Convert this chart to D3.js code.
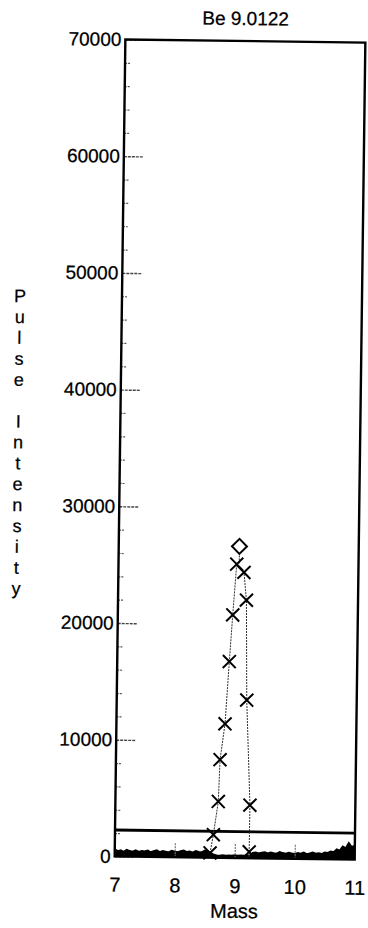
<!DOCTYPE html>
<html>
<head>
<meta charset="utf-8">
<script src="https://cdn.jsdelivr.net/npm/d3@7"></script>
<style>
  html, body { margin: 0; padding: 0; background: #fff; }
  svg { display: block; }
  text { font-family: "Liberation Sans", Arial, sans-serif; fill: #000; stroke: #000; stroke-width: 0.25px; }
</style>
</head>
<body>
<svg id="chart" width="368" height="928"></svg>
<script>
// ---------- data ----------
const title = "Be 9.0122";
const xLabel = "Mass";
const yLabel = "Pulse Intensity";
const xTicks = [7, 8, 9, 10, 11];
const yTicks = [0, 10000, 20000, 30000, 40000, 50000, 60000, 70000];
const yMinorTicks = [2000, 4000, 6000, 8000, 12000, 14000, 16000, 18000, 22000, 24000, 26000, 28000,
  32000, 34000, 36000, 38000, 42000, 44000, 46000, 48000, 52000, 54000, 56000, 58000,
  62000, 64000, 66000, 68000];

// scan points (crosses), in drawing order
const crossMass = [8.588, 8.64, 8.715, 8.735, 8.81, 8.868, 8.915, 8.97, 9.093, 9.14, 9.167, 9.243, 9.24];
const crossIntensity = [400, 1970, 4820, 8400, 11480, 16820, 20820, 25170, 24480, 22100, 13540, 4540, 540];

// peak marker (diamond)
const peakMass = [9.0122];
const peakIntensity = [26700];

// horizontal threshold line
const thresholdIntensity = [2260];

// background noise trace
const noiseMass = [7.00, 7.05, 7.10, 7.15, 7.20, 7.25, 7.30, 7.35, 7.40, 7.45, 7.50,
  7.55, 7.60, 7.65, 7.70, 7.75, 7.80, 7.85, 7.90, 7.95, 8.00,
  8.05, 8.10, 8.15, 8.20, 8.25, 8.30, 8.35, 8.40, 8.45, 8.50,
  8.55, 8.60, 8.65, 8.70, 8.75, 8.80, 8.85, 8.90, 8.95, 9.00,
  9.05, 9.10, 9.15, 9.20, 9.25, 9.30, 9.35, 9.40, 9.45, 9.50,
  9.55, 9.60, 9.65, 9.70, 9.75, 9.80, 9.85, 9.90, 9.95, 10.00,
  10.05, 10.10, 10.15, 10.20, 10.25, 10.30, 10.35, 10.40, 10.45, 10.50,
  10.55, 10.60, 10.65, 10.70, 10.75, 10.80, 10.85, 10.90, 10.95, 11.00];
const noiseIntensity = [600, 450, 530, 400, 570, 470, 430, 550, 410, 500, 450,
  530, 390, 480, 560, 420, 510, 450, 400, 540, 460,
  430, 510, 570, 450, 500, 410, 550, 480, 440, 600,
  530, 400, 250, 200, 180, 220, 190, 210, 180, 230,
  200, 220, 190, 240, 210, 450, 500, 420, 480, 530,
  430, 500, 450, 410, 550, 470, 430, 510, 450, 400,
  490, 440, 530, 410, 470, 550, 450, 500, 430, 570,
  530, 650, 600, 850, 750, 1100, 950, 1400, 1050, 1200];

// ---------- layout ----------
const svg = d3.select("#chart");
const mLeft = 120, mRight = 360, mTop = 41, mBottom = 858;
const x = d3.scaleLinear().domain([7, 11]).range([mLeft, mRight]);
const y = d3.scaleLinear().domain([0, 70000]).range([mBottom, mTop]);

// the scanned page is slightly rotated
const g = svg.append("g").attr("transform", "rotate(0.75,240,450)");

// noise band
const noise = noiseMass.map((m, i) => ({ m, v: noiseIntensity[i] }));
g.append("path")
  .datum(noise)
  .attr("d", d3.area().x(d => x(d.m)).y0(y(0)).y1(d => y(d.v)))
  .attr("fill", "#000");
g.append("path")
  .datum(noise)
  .attr("d", d3.line().x(d => x(d.m)).y(d => y(d.v)))
  .attr("fill", "none").attr("stroke", "#000").attr("stroke-width", 2)
  .attr("stroke-linejoin", "miter");

// minor y ticks
g.append("g")
  .attr("transform", `translate(${mLeft},0)`)
  .call(d3.axisLeft(y).tickValues(yMinorTicks).tickSize(-6).tickFormat(""))
  .call(s => s.select(".domain").remove())
  .call(s => s.selectAll("line").attr("stroke", "#555").attr("stroke-width", 1.2).attr("stroke-dasharray", "2,1"));

// major y ticks + labels
g.append("g")
  .attr("transform", `translate(${mLeft},0)`)
  .call(d3.axisLeft(y).tickValues(yTicks).tickSizeInner(-20).tickSizeOuter(0).tickPadding(4).tickFormat(d3.format("d")))
  .call(s => s.select(".domain").remove())
  .call(s => s.selectAll("line").attr("stroke", "#444").attr("stroke-width", 1.4).attr("stroke-dasharray", "3,1"))
  .call(s => s.selectAll("text").attr("font-size", 19).attr("font-family", "Liberation Sans, Arial, sans-serif").attr("fill", "#000"));

// x ticks + labels
g.append("g")
  .attr("transform", `translate(0,${mBottom})`)
  .call(d3.axisBottom(x).tickValues(xTicks).tickSizeInner(-15).tickSizeOuter(0).tickPadding(21).tickFormat(d3.format("d")))
  .call(s => s.select(".domain").remove())
  .call(s => s.selectAll("line").attr("stroke", "#777").attr("stroke-width", 1.2).attr("stroke-dasharray", "2,1"))
  .call(s => s.selectAll("text").attr("font-size", 20).attr("font-family", "Liberation Sans, Arial, sans-serif").attr("fill", "#000"));

// threshold line
g.selectAll(".thr").data(thresholdIntensity).join("line")
  .attr("x1", mLeft).attr("x2", mRight)
  .attr("y1", d => y(d)).attr("y2", d => y(d))
  .attr("stroke", "#000").attr("stroke-width", 2.8);

// connecting dotted line through scan points
const pts = crossMass.map((m, i) => ({ m, v: crossIntensity[i] }));
const lineGen = d3.line().x(p => x(p.m)).y(p => y(p.v));
g.append("path")
  .attr("d", lineGen(pts))
  .attr("fill", "none").attr("stroke", "#333").attr("stroke-width", 1)
  .attr("stroke-dasharray", "2,1");
// extend ends of the trace down to zero
const firstPt = pts[0], lastPt = pts[pts.length - 1];
g.append("path")
  .attr("d", lineGen([firstPt, { m: firstPt.m, v: 0 }]) + lineGen([lastPt, { m: lastPt.m, v: 0 }]))
  .attr("fill", "none").attr("stroke", "#333").attr("stroke-width", 1).attr("stroke-dasharray", "2,1");

// vertical dotted drop from peak marker
g.selectAll(".drop").data(peakMass).join("line")
  .attr("x1", d => x(d)).attr("x2", d => x(d))
  .attr("y1", (d, i) => y(peakIntensity[i])).attr("y2", y(crossIntensity[7]))
  .attr("stroke", "#333").attr("stroke-width", 1).attr("stroke-dasharray", "2,1");

// cross markers
const cs = 6.5;
g.selectAll(".cross").data(pts).join("path")
  .attr("d", d => {
    const cx = x(d.m), cy = y(d.v);
    return `M${cx - cs},${cy - cs}L${cx + cs},${cy + cs}M${cx - cs},${cy + cs}L${cx + cs},${cy - cs}`;
  })
  .attr("stroke", "#000").attr("stroke-width", 2).attr("fill", "none");

// diamond marker
const ds = 7.5;
g.selectAll(".diamond").data(peakMass).join("path")
  .attr("d", (d, i) => {
    const cx = x(d), cy = y(peakIntensity[i]);
    return `M${cx},${cy - ds}L${cx + ds},${cy}L${cx},${cy + ds}L${cx - ds},${cy}Z`;
  })
  .attr("stroke", "#000").attr("stroke-width", 2).attr("fill", "#fff");

// frame
g.append("rect")
  .attr("x", mLeft).attr("y", mTop).attr("width", mRight - mLeft).attr("height", mBottom - mTop)
  .attr("fill", "none").attr("stroke", "#000").attr("stroke-width", 2.4);

// title
g.append("text").attr("x", (mLeft + mRight) / 2).attr("y", 25)
  .attr("text-anchor", "middle").attr("font-size", 19).text(title);

// x label
g.append("text").attr("x", (mLeft + mRight) / 2).attr("y", 918)
  .attr("text-anchor", "middle").attr("font-size", 20).text(xLabel);

// y label: vertically stacked letters
g.append("g").selectAll("text").data(Array.from(yLabel)).join("text")
  .attr("x", 18).attr("y", (d, i) => 305 + i * 20.9)
  .attr("text-anchor", "middle").attr("font-size", 18).text(d => d);
</script>
</body>
</html>
